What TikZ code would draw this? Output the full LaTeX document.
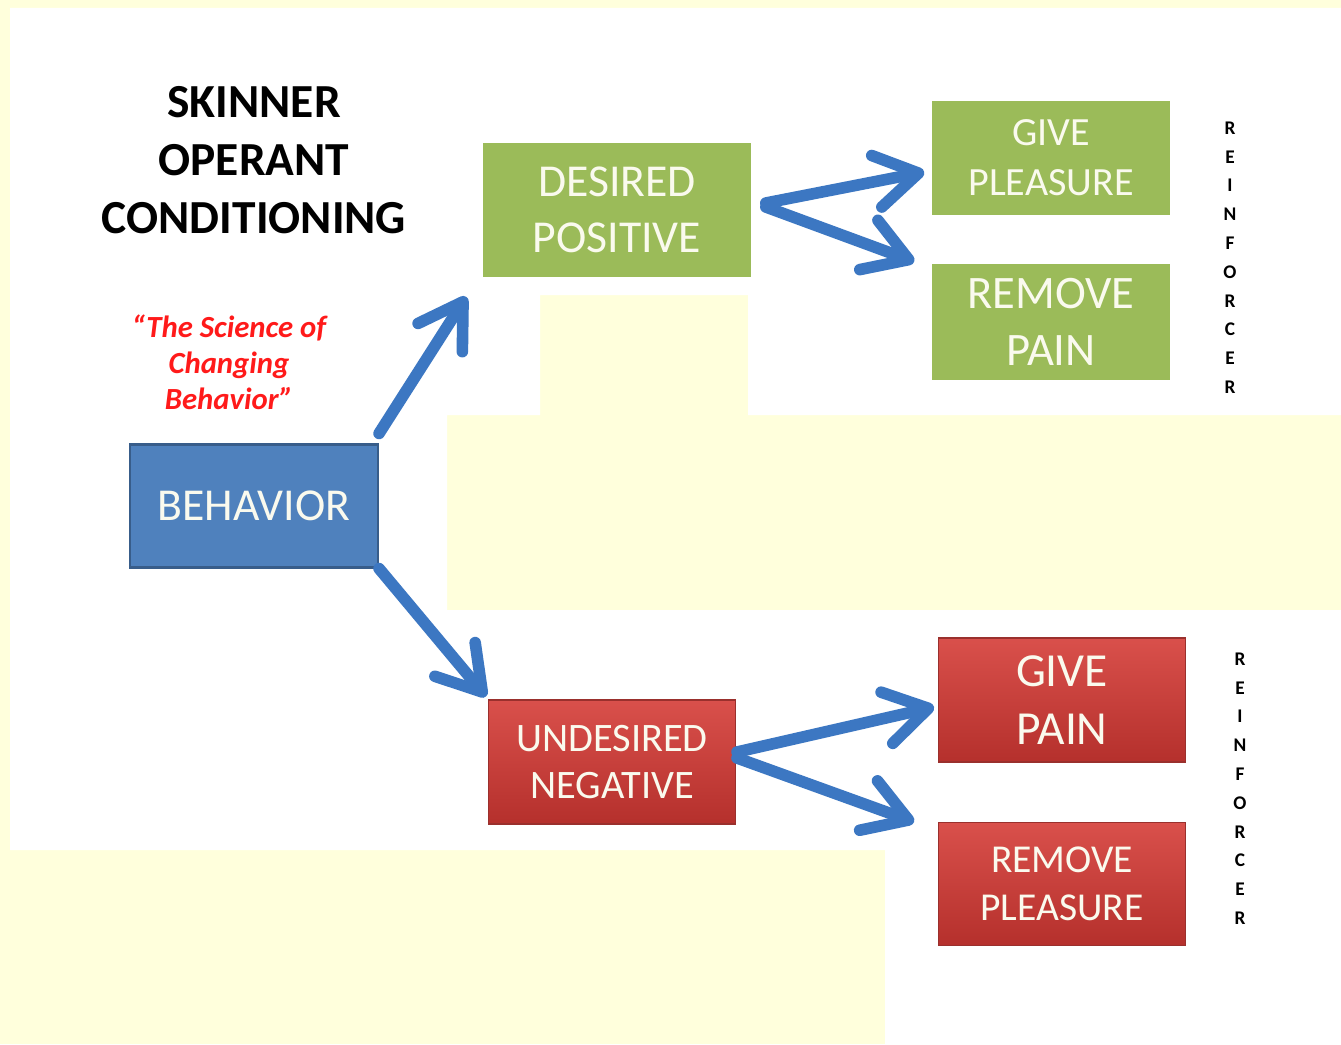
\documentclass[tikz,border=0pt]{standalone}
\usepackage{fontspec}
\setmainfont{Carlito}
\usetikzlibrary{arrows.meta}
\definecolor{bgyellow}{HTML}{FFFFDC}
\definecolor{boxblue}{HTML}{4F81BD}
\definecolor{edgeblue}{HTML}{385D8A}
\definecolor{boxgreen}{HTML}{9BBB59}
\definecolor{redtop}{HTML}{D9504B}
\definecolor{redbot}{HTML}{B5302C}
\definecolor{edgered}{HTML}{9A302D}
\definecolor{arrowblue}{HTML}{3C77C2}
\definecolor{boxtext}{HTML}{FAFAEE}
\definecolor{quotered}{HTML}{FF1A1A}
\newcommand{\bigarrowtip}{-{Straight Barb[length=0.85cm,width=1.05cm,line cap=round,line join=round]}}

\begin{document}
\begin{tikzpicture}[
    x=0.02cm, y=-0.02cm,
    bigarrow/.style={\bigarrowtip, draw=arrowblue, line width=6.6pt, line cap=round, line join=round},
    box/.style={inner sep=0pt, align=center, text=boxtext},
    bluebox/.style={box, fill=boxblue, draw=edgeblue, line width=1.2pt, minimum width=4.96cm, minimum height=2.46cm},
    greenbox/.style={box, fill=boxgreen, minimum width=#1},
    redbox/.style={box, top color=redtop, bottom color=redbot, draw=edgered, line width=0.6pt, minimum width=4.94cm},
    reinf/.style={inner sep=0pt, font=\bfseries\fontsize{11}{11}\selectfont}
]
  % page and white panels
  \useasboundingbox (0,0) rectangle (1341,1044);
  \fill[bgyellow] (0,0) rectangle (1341,1044);
  \fill[white] (10,8) -- (1341,8) -- (1341,415) -- (748,415) -- (748,295) -- (540,295)
    -- (540,415) -- (447,415) -- (447,610) -- (1341,610) -- (1341,1044) -- (885,1044)
    -- (885,850) -- (10,850) -- cycle;

  % headings
  \node[align=center, font=\bfseries\fontsize{27}{33}\selectfont] (title) at (254,160)
    {SKINNER\\OPERANT\\CONDITIONING};
  \node[align=center, text=quotered, font=\bfseries\itshape\fontsize{17.5}{20.5}\selectfont] (motto) at (229,362)
    {``The Science of\\Changing\\Behavior''};

  % boxes
  \node[bluebox, font=\fontsize{26}{30}\selectfont] (behavior) at (254,506) {BEHAVIOR};
  \node[greenbox=5.38cm, minimum height=2.70cm, font=\fontsize{26}{32}\selectfont] (desired) at (617,210)
    {DESIRED\\POSITIVE};
  \node[greenbox=4.78cm, minimum height=2.30cm, font=\fontsize{22.8}{28.5}\selectfont] (givepleasure) at (1051,158)
    {GIVE\\PLEASURE};
  \node[greenbox=4.78cm, minimum height=2.32cm, font=\fontsize{26.5}{32}\selectfont] (removepain) at (1051,322)
    {REMOVE\\PAIN};
  \node[redbox, minimum height=2.48cm, font=\fontsize{23}{27}\selectfont] (undesired) at (612,762)
    {UNDESIRED\\NEGATIVE};
  \node[redbox, minimum height=2.48cm, font=\fontsize{27}{33}\selectfont] (givepain) at (1062,700)
    {GIVE\\PAIN};
  \node[redbox, minimum height=2.46cm, font=\fontsize{22.5}{27}\selectfont] (removepleasure) at (1062,884)
    {REMOVE\\PLEASURE};

  % vertical labels
  \foreach \l [count=\i from 0] in {R,E,I,N,F,O,R,C,E,R} {
    \node[reinf] (reinf-top-\i) at (1230,128+28.8*\i) {\l};
    \node[reinf] (reinf-bot-\i) at (1240,659+28.8*\i) {\l};
  }

  % arrows
  \draw[bigarrow] ([yshift=0.2cm]behavior.north east) -- ([xshift=-0.32cm,yshift=-0.38cm]desired.south west);
  \draw[bigarrow] (behavior.south east) -- ([xshift=-0.04cm,yshift=0.06cm]undesired.north west);
  \draw[bigarrow] ([xshift=0.28cm,yshift=0.14cm]desired.east) -- ([xshift=-0.14cm,yshift=-0.28cm]givepleasure.west);
  \draw[bigarrow] ([xshift=0.28cm,yshift=0.06cm]desired.east) -- ([xshift=-0.34cm,yshift=0.04cm]removepain.north west);
  \draw[bigarrow] ([xshift=0.02cm,yshift=0.2cm]undesired.east) -- ([xshift=-0.08cm,yshift=-0.14cm]givepain.west);
  \draw[bigarrow] ([xshift=0.02cm,yshift=0.08cm]undesired.east) -- ([xshift=-0.48cm]removepleasure.north west);
\end{tikzpicture}
\end{document}
